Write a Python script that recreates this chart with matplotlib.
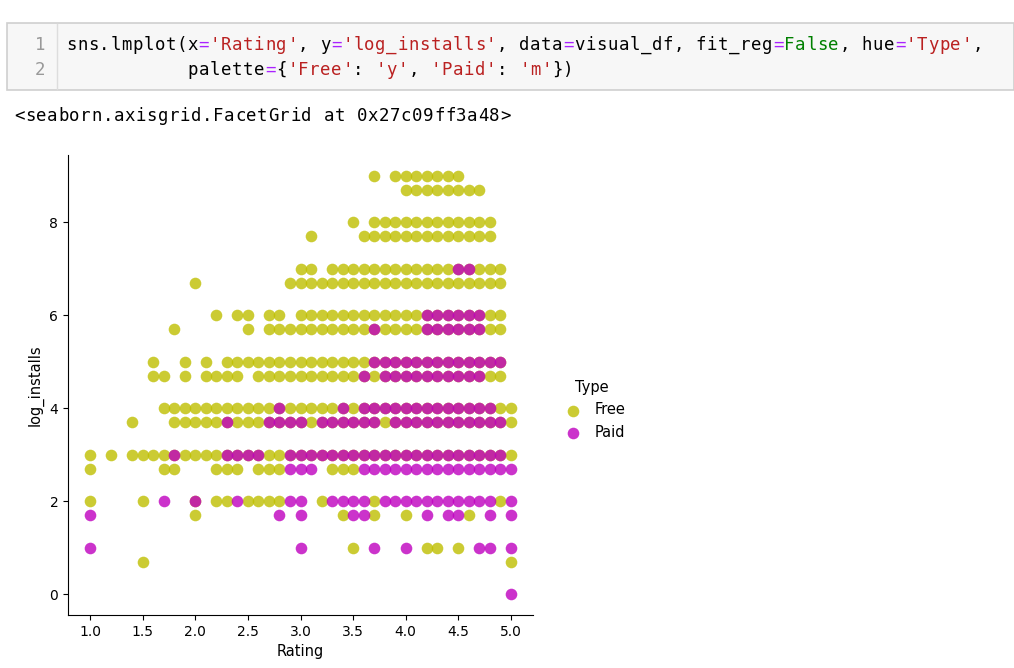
import numpy as np
import matplotlib
matplotlib.use("Agg")
import matplotlib.pyplot as plt

# log10 of install buckets
LEVELS = [0.0, np.log10(5), 1.0, np.log10(50), 2.0, np.log10(500), 3.0, np.log10(5000),
          4.0, np.log10(5e4), 5.0, np.log10(5e5), 6.0, np.log10(5e6), 7.0, np.log10(5e7),
          8.0, np.log10(5e8), 9.0]


def rng(a, b):
    return [round(a + 0.1 * i, 1) for i in range(int(round((b - a) * 10)) + 1)]


# ratings observed at each install level (index into LEVELS)
free_rows = {
    1: [1.5, 5.0],
    2: [3.5, 4.2, 4.3, 4.5],
    3: [2.0, 3.4, 3.7, 4.0, 4.6],
    4: [1.0, 1.5, 2.0, 2.2, 2.3] + rng(2.5, 2.8) + [3.2, 3.7, 4.9],
    5: [1.0, 1.7, 1.8, 2.2, 2.3, 2.4, 2.6, 2.7, 2.8, 3.3, 3.4, 3.5],
    6: [1.0, 1.2] + rng(1.4, 5.0),
    7: [1.4] + rng(1.8, 5.0),
    8: rng(1.7, 5.0),
    9: [1.6, 1.7, 1.9] + rng(2.1, 2.4) + rng(2.6, 4.9),
    10: [1.6, 1.9, 2.1] + rng(2.3, 2.5) + rng(2.6, 4.9),
    11: [1.8, 2.5] + rng(2.7, 4.9),
    12: [2.2, 2.4, 2.5, 2.7, 2.8] + rng(3.0, 4.9),
    13: [2.0] + rng(2.9, 4.9),
    14: [3.0, 3.1] + rng(3.3, 4.9),
    15: [3.1] + rng(3.6, 4.8),
    16: [3.5] + rng(3.7, 4.8),
    17: rng(4.0, 4.7),
    18: [3.7] + rng(3.9, 4.5),
}
paid_rows = {
    0: [5.0],
    2: [1.0, 3.0, 3.7, 4.0, 4.7, 4.8, 5.0],
    3: [1.0, 2.8, 3.0, 3.5, 3.6, 4.2, 4.4, 4.5, 4.8, 5.0],
    4: [1.7, 2.0, 2.4, 2.9, 3.0] + rng(3.3, 3.6) + rng(3.8, 4.8) + [5.0],
    5: [2.9, 3.0, 3.1] + rng(3.6, 5.0),
    6: [1.8] + rng(2.3, 2.6) + rng(2.9, 4.9),
    7: [2.3] + rng(2.7, 3.0) + rng(3.2, 3.7) + rng(3.9, 4.9),
    8: [2.8, 3.4] + rng(3.6, 4.8),
    9: [3.6] + rng(3.8, 4.7),
    10: rng(3.7, 4.9),
    11: [3.7] + rng(4.2, 4.7),
    12: rng(4.2, 4.7),
    14: [4.5, 4.6],
}

free_x, free_y, paid_x, paid_y = [], [], [], []
for k, v in free_rows.items():
    free_x += v
    free_y += [LEVELS[k]] * len(v)
for k, v in paid_rows.items():
    paid_x += v
    paid_y += [LEVELS[k]] * len(v)

W, H = 1014, 668
fig = plt.figure(figsize=(W / 100, H / 100), dpi=100)

# --- notebook cell ---
def px(x, y):
    return x / W, 1 - y / H

box = plt.Rectangle(px(7, 90), (W - 7) / W, 67 / H, transform=fig.transFigure,
                    facecolor="#f7f7f7", edgecolor="#cfcfcf", lw=1.2)
fig.patches.append(box)
fig.add_artist(plt.Line2D([57 / W, 57 / W], [1 - 24 / H, 1 - 89 / H],
                          transform=fig.transFigure, color="#dddddd", lw=1))

CW = 11.05
BLACK, RED, PURP, GREEN = "#000000", "#ba2121", "#aa22ff", "#008000"
line1 = [("sns.lmplot(x", BLACK), ("=", PURP), ("'Rating'", RED), (", y", BLACK), ("=", PURP),
         ("'log_installs'", RED), (", data", BLACK), ("=", PURP), ("visual_df, fit_reg", BLACK),
         ("=", PURP), ("False", GREEN), (", hue", BLACK), ("=", PURP), ("'Type'", RED), (",", BLACK)]
line2 = [("           palette", BLACK), ("=", PURP), ("{", BLACK), ("'Free'", RED), (": ", BLACK),
         ("'y'", RED), (", ", BLACK), ("'Paid'", RED), (": ", BLACK), ("'m'", RED), ("})", BLACK)]


def draw_code(segs, x0, y):
    col = 0
    for s, c in segs:
        for ch in s:
            if ch != " ":
                fig.text(*px(x0 + col * CW, y), ch, color=c, family="DejaVu Sans Mono",
                         fontsize=12.5, va="center", ha="left")
            col += 1


fig.text(*px(45, 45), "1", color="#999999", family="DejaVu Sans Mono", fontsize=12.5,
         va="center", ha="right")
fig.text(*px(45, 70), "2", color="#999999", family="DejaVu Sans Mono", fontsize=12.5,
         va="center", ha="right")
draw_code(line1, 66, 45)
draw_code(line2, 66, 70)
draw_code([("<seaborn.axisgrid.FacetGrid at 0x27c09ff3a48>", BLACK)], 14, 116)

# --- scatter ---
ax = fig.add_axes([68 / W, 1 - 615 / H, 465 / W, 460 / H])
ax.scatter(free_x, free_y, s=70, color=(0.75, 0.75, 0), alpha=0.8, linewidths=0, label="Free")
ax.scatter(paid_x, paid_y, s=70, color=(0.75, 0, 0.75), alpha=0.8, linewidths=0, label="Paid")
ax.set_xlim(0.79, 5.21)
ax.set_ylim(-0.45, 9.45)
ax.set_xticks([1.0, 1.5, 2.0, 2.5, 3.0, 3.5, 4.0, 4.5, 5.0])
ax.set_yticks([0, 2, 4, 6, 8])
ax.tick_params(labelsize=10)
ax.set_xlabel("Rating", fontsize=10.5)
ax.set_ylabel("log_installs", fontsize=10.5)
for sp in ("top", "right"):
    ax.spines[sp].set_visible(False)

fig.legend(handles=ax.collections, labels=["Free", "Paid"], title="Type", frameon=False,
           loc="center left", bbox_to_anchor=(545 / W, 1 - 410 / H), fontsize=10.5,
           title_fontsize=10.5, handletextpad=0.5)

fig.savefig("out.png", dpi=100)
